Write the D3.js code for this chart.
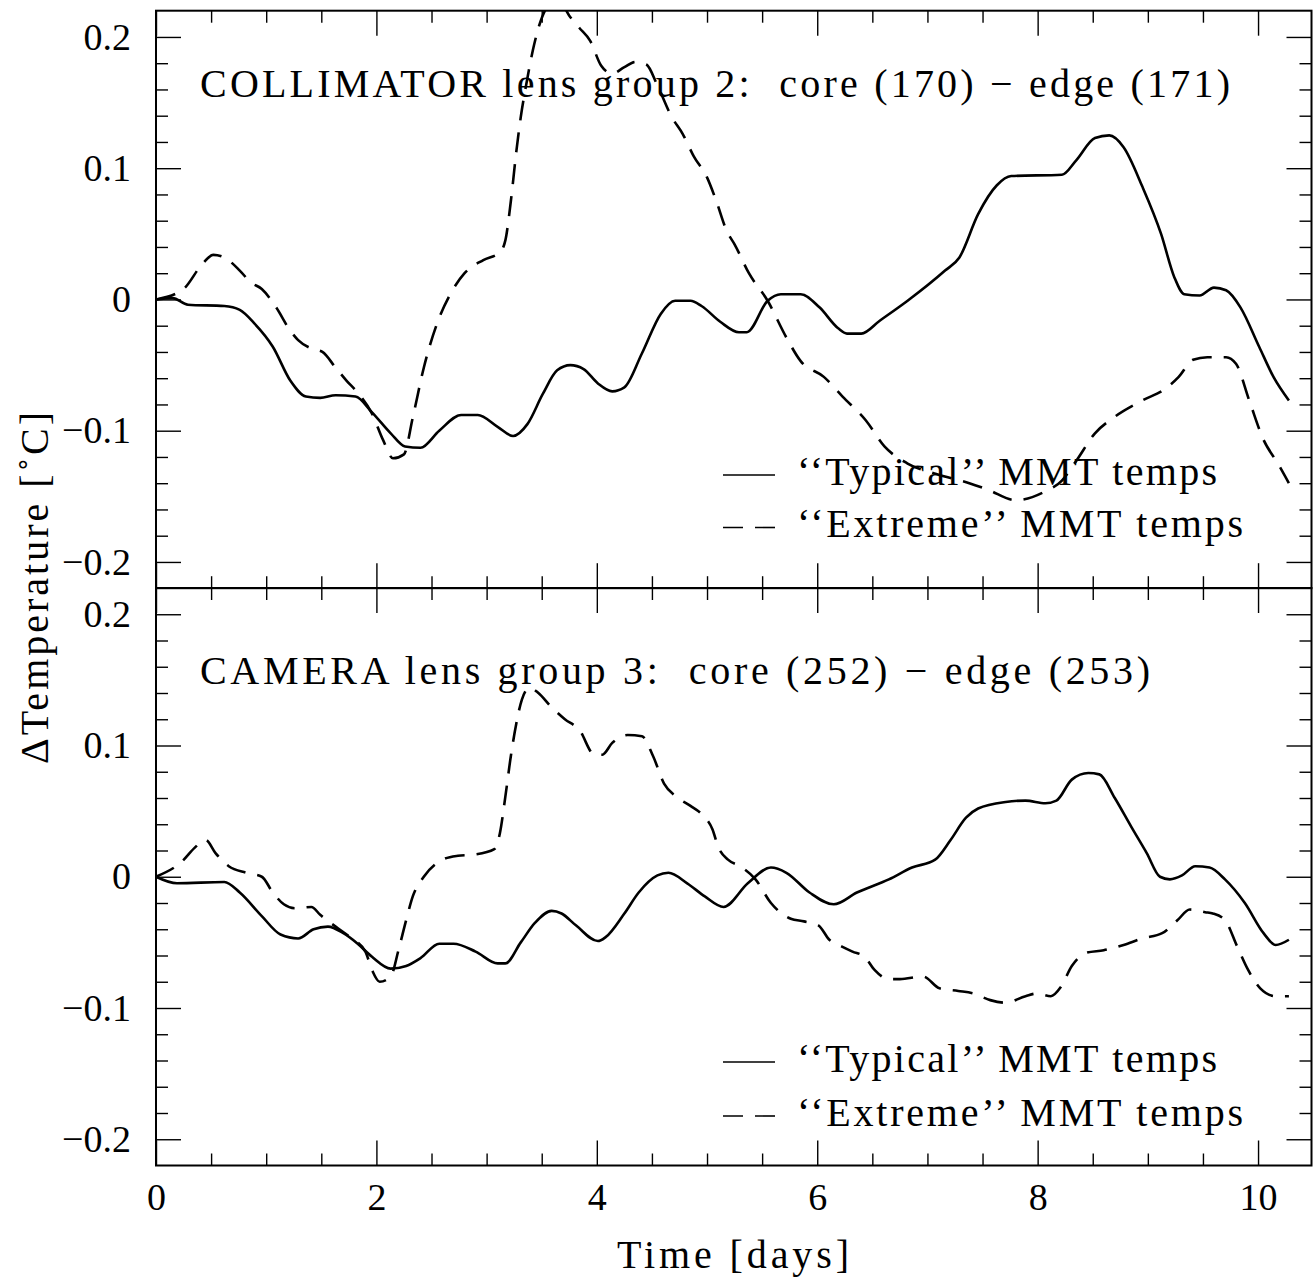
<!DOCTYPE html>
<html>
<head>
<meta charset="utf-8">
<script src="https://cdn.jsdelivr.net/npm/d3@7"></script>
<style>
  body { margin: 0; background: #fff; }
</style>
</head>
<body>
<div id="chart"></div>
<script>
// tick values and labels
const xTicksMajor = [0, 2, 4, 6, 8, 10];
const xTicksMinor = [0.5, 1, 1.5, 2.5, 3, 3.5, 4.5, 5, 5.5, 6.5, 7, 7.5, 8.5, 9, 9.5];
const yTicksMajor = [-0.2, -0.1, 0, 0.1, 0.2];
const yTicksMinor = [-0.18, -0.16, -0.14, -0.12, -0.08, -0.06, -0.04, -0.02,
                     0.02, 0.04, 0.06, 0.08, 0.12, 0.14, 0.16, 0.18];

const panelTitles = ["COLLIMATOR lens group 2:  core (170) \u2212 edge (171)",
                     "CAMERA lens group 3:  core (252) \u2212 edge (253)"];
const seriesNames = ["\u2018\u2018Typical\u2019\u2019 MMT temps", "\u2018\u2018Extreme\u2019\u2019 MMT temps"];

// [time in days, delta temperature in C]
const collimatorTypical = [[0,0],[0.15,0.001],[0.29,-0.004],[0.62,-0.005],[0.76,-0.008],[0.89,-0.018],[1.06,-0.036],
  [1.22,-0.062],[1.36,-0.074],[1.49,-0.075],[1.63,-0.073],[1.81,-0.074],[1.96,-0.086],[2.13,-0.102],[2.26,-0.112],
  [2.40,-0.113],[2.57,-0.100],[2.77,-0.088],[2.92,-0.088],[3.10,-0.097],[3.24,-0.104],[3.37,-0.095],[3.51,-0.072],
  [3.64,-0.054],[3.76,-0.050],[3.88,-0.053],[4.01,-0.064],[4.14,-0.070],[4.25,-0.067],[4.41,-0.041],[4.58,-0.011],
  [4.71,-0.001],[4.85,-0.001],[4.95,-0.005],[5.12,-0.017],[5.29,-0.025],[5.36,-0.025],[5.55,-0.001],[5.67,0.004],
  [5.85,0.004],[6.02,-0.006],[6.19,-0.022],[6.27,-0.026],[6.40,-0.026],[6.57,-0.016],[6.82,-0.001],[7.16,0.022],
  [7.29,0.032],[7.46,0.065],[7.63,0.087],[7.76,0.094],[8.22,0.095],[8.35,0.106],[8.52,0.123],[8.65,0.125],
  [8.78,0.116],[8.95,0.086],[9.12,0.050],[9.24,0.017],[9.33,0.004],[9.47,0.003],[9.60,0.009],[9.71,0.007],
  [9.84,-0.006],[10.01,-0.036],[10.14,-0.059],[10.28,-0.077]];

const collimatorExtreme = [[0,0],[0.25,0.008],[0.42,0.027],[0.52,0.034],[0.62,0.032],[0.76,0.022],[0.86,0.013],
  [0.96,0.008],[1.09,-0.006],[1.22,-0.024],[1.29,-0.031],[1.43,-0.038],[1.51,-0.040],[1.63,-0.052],[1.73,-0.062],
  [1.83,-0.071],[1.96,-0.087],[2.06,-0.107],[2.15,-0.121],[2.25,-0.118],[2.33,-0.090],[2.43,-0.052],[2.57,-0.014],
  [2.67,0.004],[2.80,0.020],[2.97,0.030],[3.12,0.036],[3.17,0.045],[3.22,0.075],[3.27,0.113],[3.31,0.139],
  [3.36,0.164],[3.42,0.190],[3.49,0.212],[3.56,0.223],[3.68,0.224],[3.76,0.215],[3.84,0.207],[3.94,0.197],
  [4.04,0.178],[4.14,0.172],[4.25,0.177],[4.35,0.181],[4.45,0.179],[4.55,0.163],[4.68,0.139],[4.78,0.126],
  [4.88,0.109],[5.00,0.093],[5.08,0.076],[5.18,0.052],[5.25,0.042],[5.38,0.020],[5.55,-0.001],[5.72,-0.029],
  [5.85,-0.047],[6.06,-0.059],[6.23,-0.074],[6.44,-0.092],[6.61,-0.112],[6.82,-0.125],[7.08,-0.133],[7.38,-0.140],
  [7.55,-0.145],[7.80,-0.153],[8.05,-0.147],[8.22,-0.138],[8.35,-0.123],[8.52,-0.102],[8.69,-0.090],[8.95,-0.077],
  [9.16,-0.068],[9.28,-0.059],[9.41,-0.046],[9.54,-0.044],[9.71,-0.044],[9.80,-0.049],[9.92,-0.077],[10.05,-0.107],
  [10.18,-0.125],[10.28,-0.140]];

const cameraTypical = [[0,0],[0.19,-0.005],[0.62,-0.004],[0.76,-0.012],[0.96,-0.030],[1.13,-0.044],[1.29,-0.047],
  [1.43,-0.040],[1.56,-0.038],[1.70,-0.043],[1.83,-0.051],[1.96,-0.061],[2.13,-0.070],[2.27,-0.068],[2.40,-0.062],
  [2.57,-0.051],[2.70,-0.051],[2.90,-0.057],[3.10,-0.066],[3.17,-0.066],[3.31,-0.050],[3.44,-0.035],[3.59,-0.026],
  [3.68,-0.028],[3.81,-0.037],[4.01,-0.049],[4.08,-0.046],[4.25,-0.028],[4.38,-0.012],[4.55,0.001],[4.65,0.003],
  [4.82,-0.005],[4.98,-0.015],[5.15,-0.023],[5.37,-0.005],[5.58,0.007],[5.72,0.003],[5.93,-0.012],[6.15,-0.021],
  [6.36,-0.012],[6.65,-0.002],[6.86,0.007],[7.07,0.013],[7.21,0.028],[7.35,0.045],[7.46,0.052],[7.71,0.057],
  [7.89,0.058],[8.07,0.056],[8.17,0.058],[8.31,0.074],[8.46,0.079],[8.56,0.078],[8.70,0.060],[8.85,0.038],
  [8.99,0.018],[9.11,0.000],[9.20,-0.002],[9.31,0.001],[9.43,0.008],[9.56,0.007],[9.70,-0.002],[9.88,-0.020],
  [10.05,-0.043],[10.16,-0.052],[10.28,-0.048]];

const cameraExtreme = [[0,0],[0.24,0.012],[0.35,0.022],[0.45,0.028],[0.54,0.018],[0.66,0.008],[0.82,0.003],
  [0.96,0.000],[1.06,-0.012],[1.16,-0.021],[1.26,-0.024],[1.41,-0.023],[1.49,-0.029],[1.63,-0.038],[1.76,-0.046],
  [1.90,-0.057],[1.96,-0.071],[2.03,-0.080],[2.13,-0.076],[2.20,-0.056],[2.27,-0.033],[2.33,-0.015],[2.43,0.000],
  [2.60,0.013],[2.74,0.016],[2.90,0.017],[3.07,0.021],[3.12,0.033],[3.17,0.061],[3.22,0.092],[3.27,0.117],
  [3.32,0.135],[3.39,0.144],[3.47,0.140],[3.58,0.130],[3.71,0.120],[3.84,0.112],[3.98,0.093],[4.05,0.093],
  [4.14,0.102],[4.28,0.108],[4.41,0.107],[4.51,0.092],[4.61,0.071],[4.72,0.061],[4.85,0.054],[4.96,0.047],
  [5.05,0.036],[5.10,0.023],[5.19,0.013],[5.30,0.008],[5.44,-0.002],[5.58,-0.020],[5.76,-0.032],[5.88,-0.034],
  [6.01,-0.037],[6.11,-0.048],[6.22,-0.053],[6.32,-0.057],[6.43,-0.061],[6.52,-0.071],[6.65,-0.078],[6.75,-0.078],
  [6.96,-0.076],[7.11,-0.085],[7.28,-0.087],[7.42,-0.089],[7.57,-0.094],[7.71,-0.096],[7.89,-0.091],[7.99,-0.089],
  [8.12,-0.091],[8.21,-0.084],[8.31,-0.068],[8.44,-0.058],[8.60,-0.056],[8.78,-0.052],[8.95,-0.047],[9.13,-0.043],
  [9.27,-0.033],[9.38,-0.025],[9.52,-0.027],[9.59,-0.028],[9.70,-0.033],[9.81,-0.053],[9.91,-0.071],[10.02,-0.085],
  [10.16,-0.091],[10.28,-0.091]];

const font = "'Liberation Serif', 'DejaVu Serif', serif";
const dash = "20,12";

// frame geometry
const left = 156, right = 1311.5, panelH = 577.5;
const panels = [
  {top: 10.7, data: [collimatorTypical, collimatorExtreme], title: panelTitles[0], titleY: 97, titleLen: 1030, legendY: [475, 527.5]},
  {top: 588, data: [cameraTypical, cameraExtreme], title: panelTitles[1], titleY: 683.5, titleLen: 950, legendY: [1062, 1116]}
];

var svg = d3.select("#chart")
  .append("svg")
    .attr("width", 1314)
    .attr("height", 1283)
    .style("font-family", font);

var x = d3.scaleLinear().domain([0, 10.485]).range([left, right]);

function styleAxis(g, fs) {
  g.select(".domain").remove();
  g.selectAll("line").attr("stroke", "#000").attr("stroke-width", 1.4);
  g.attr("font-family", font).attr("font-size", fs);
  g.selectAll("text").attr("fill", "#000");
}

var yFmt = d => d === 0 ? "0" : d3.format(".1f")(d);

panels.forEach((p, i) => {
  var bottom = p.top + panelH;
  var y = d3.scaleLinear().domain([-0.22, 0.22]).range([bottom, p.top]);

  // ticks on all four sides, pointing inward
  [[yTicksMajor, 25, true], [yTicksMinor, 12, false]].forEach(([vals, size, lab]) => {
    svg.append("g")
      .attr("transform", "translate(" + left + ",0)")
      .call(d3.axisLeft(y).tickValues(vals).tickSize(-size).tickPadding(25)
        .tickFormat(lab ? yFmt : ""))
      .call(g => styleAxis(g, 38));
    svg.append("g")
      .attr("transform", "translate(" + right + ",0)")
      .call(d3.axisRight(y).tickValues(vals).tickSize(-size).tickFormat(""))
      .call(g => styleAxis(g, 38));
  });
  [[xTicksMajor, 25], [xTicksMinor, 12]].forEach(([vals, size]) => {
    svg.append("g")
      .attr("transform", "translate(0," + p.top + ")")
      .call(d3.axisTop(x).tickValues(vals).tickSize(-size).tickFormat(""))
      .call(g => styleAxis(g, 38));
    svg.append("g")
      .attr("transform", "translate(0," + bottom + ")")
      .call(d3.axisBottom(x).tickValues(vals).tickSize(-size).tickPadding(18)
        .tickFormat(i === 1 && size === 25 ? d3.format("d") : ""))
      .call(g => styleAxis(g, 38));
  });

  // frame
  svg.append("rect")
    .attr("x", left).attr("y", p.top)
    .attr("width", right - left).attr("height", panelH)
    .attr("fill", "none").attr("stroke", "#000").attr("stroke-width", 2);

  svg.append("clipPath").attr("id", "clip" + i)
    .append("rect")
      .attr("x", left).attr("y", p.top)
      .attr("width", right - left).attr("height", panelH);

  var line = d3.line()
    .curve(d3.curveMonotoneX)
    .x(d => x(d[0]))
    .y(d => y(d[1]));

  p.data.forEach((series, k) => {
    svg.append("path")
      .datum(series)
      .attr("clip-path", "url(#clip" + i + ")")
      .attr("d", line)
      .attr("fill", "none")
      .attr("stroke", "#000")
      .attr("stroke-width", 2.6)
      .attr("stroke-linejoin", "round")
      .attr("stroke-dasharray", k === 1 ? dash : null);
  });

  // panel title
  svg.append("text")
    .attr("x", 200).attr("y", p.titleY)
    .attr("font-size", 40)
    .attr("textLength", p.titleLen)
    .attr("lengthAdjust", "spacing")
    .style("white-space", "pre")
    .text(p.title);

  // legend
  seriesNames.forEach((name, k) => {
    svg.append("line")
      .attr("x1", 723).attr("x2", 775)
      .attr("y1", p.legendY[k]).attr("y2", p.legendY[k])
      .attr("stroke", "#000").attr("stroke-width", 1.6)
      .attr("stroke-dasharray", k === 1 ? dash : null);
    svg.append("text")
      .attr("x", 797).attr("y", p.legendY[k] + 9.5)
      .attr("font-size", 40)
      .attr("textLength", k === 0 ? 420 : 446)
      .attr("lengthAdjust", "spacing")
      .text(name);
  });
});

// axis labels
svg.append("text")
  .attr("x", 733).attr("y", 1268)
  .attr("text-anchor", "middle")
  .attr("font-size", 40)
  .attr("textLength", 232)
  .attr("lengthAdjust", "spacing")
  .text("Time [days]");

svg.append("text")
  .attr("transform", "translate(48,588) rotate(-90)")
  .attr("text-anchor", "middle")
  .attr("font-size", 40)
  .attr("textLength", 352)
  .attr("lengthAdjust", "spacing")
  .text("\u0394Temperature [\u02DAC]");
</script>
</body>
</html>
